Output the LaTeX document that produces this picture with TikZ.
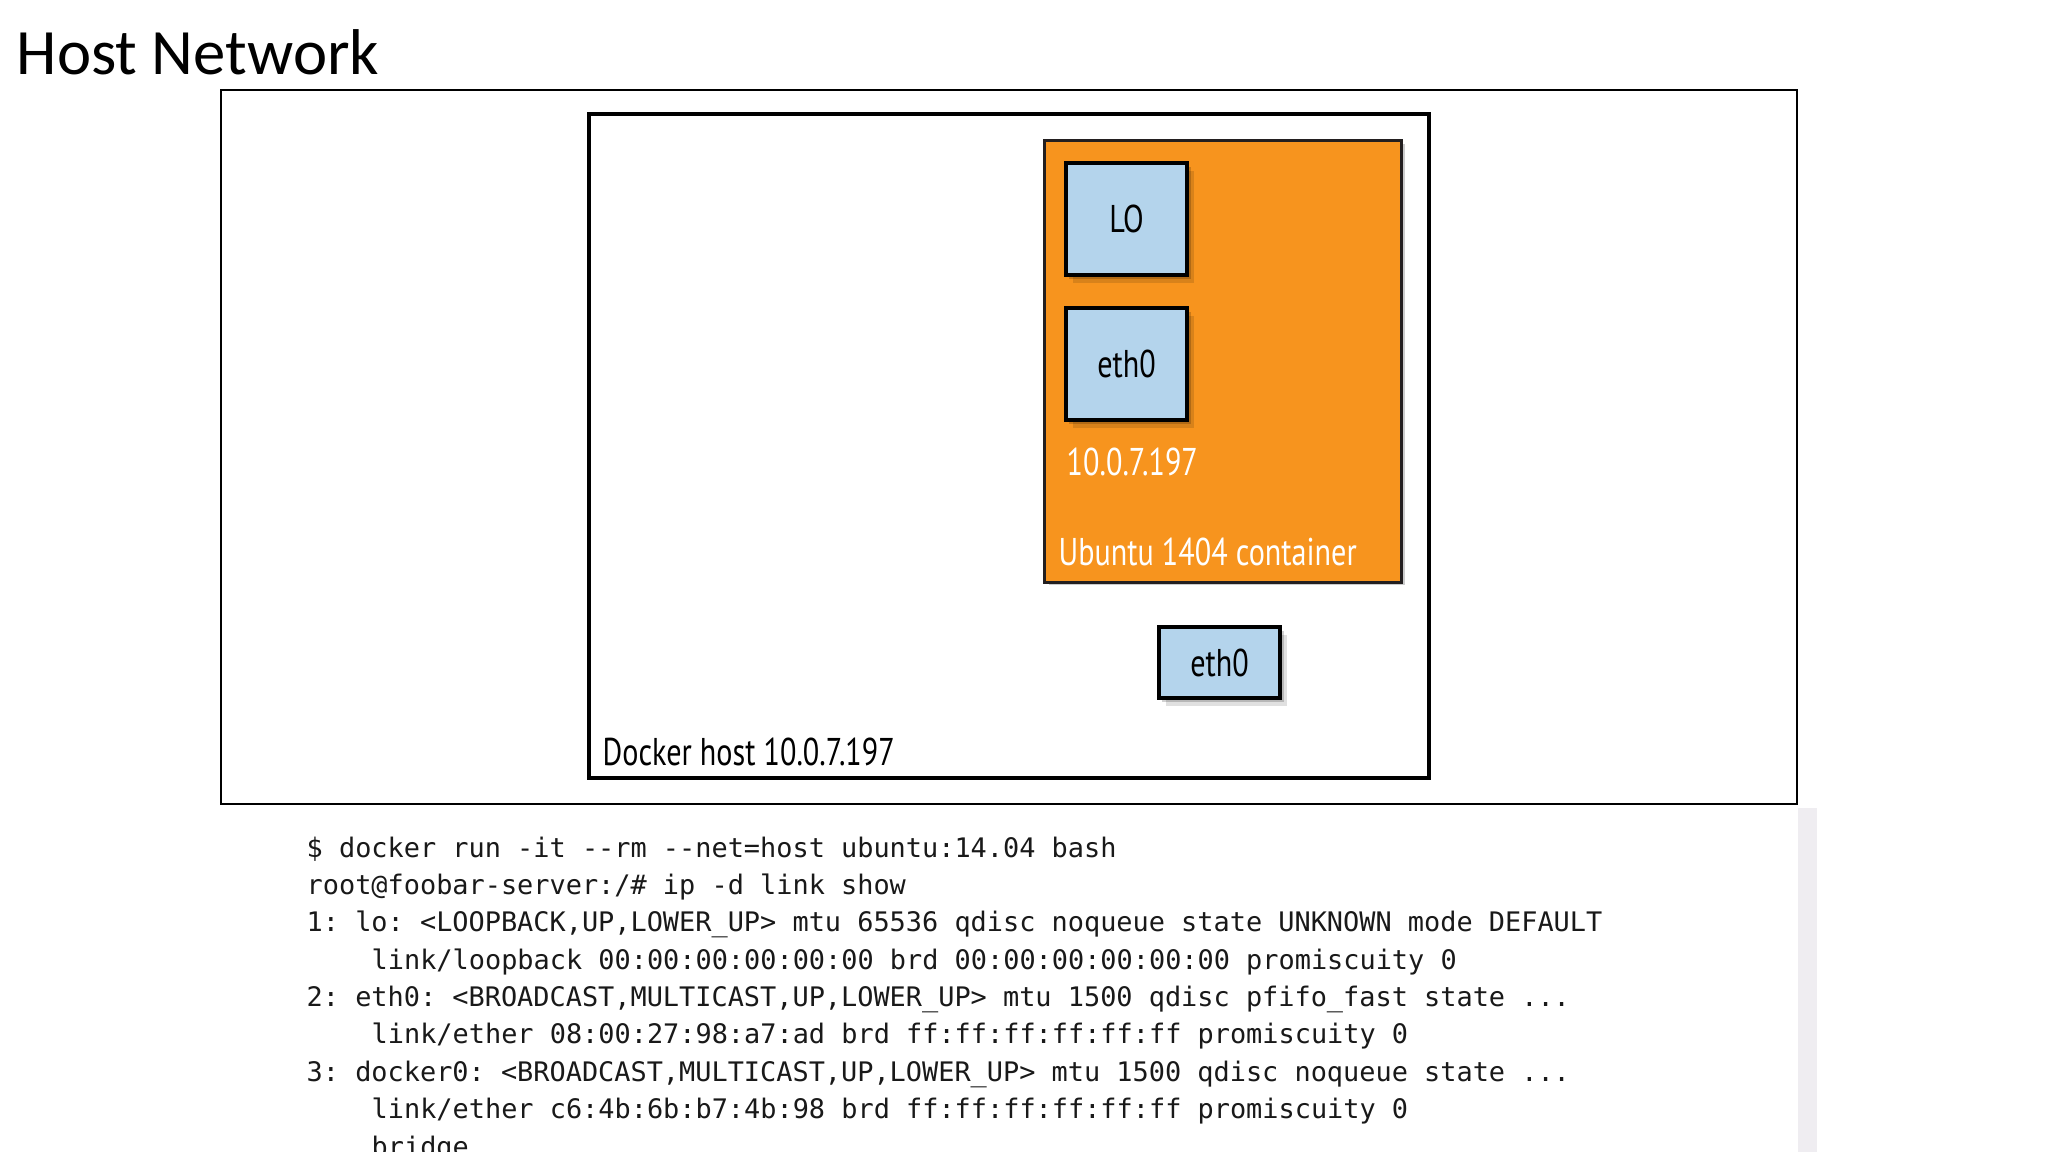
\documentclass[tikz,border=0pt]{standalone}
\usepackage{fontspec}
\setmainfont{Carlito}
\setmonofont{DejaVu Sans Mono}
\newfontfamily\diafont{PT Sans}[FakeStretch=0.78]
\usetikzlibrary{shadows}
\definecolor{ifblue}{RGB}{180,212,236}
\definecolor{ctorange}{RGB}{247,148,30}
\definecolor{stripgray}{RGB}{239,237,241}
\definecolor{codeink}{RGB}{25,25,25}
\tikzset{
  ifbox/.style={draw=black, line width=1.1pt, fill=ifblue, minimum width=1.21cm,
    inner sep=0pt, font=\diafont\fontsize{11}{13}\selectfont,
    general shadow={fill=black, opacity=0.12, shadow xshift=0.07cm, shadow yshift=-0.08cm},
    general shadow={fill=black, opacity=0.18, shadow xshift=0.035cm, shadow yshift=-0.04cm}},
  dialabel/.style={anchor=base west, inner sep=0pt, font=\diafont\fontsize{11}{13}\selectfont},
  codeline/.style={anchor=base west, inner sep=0pt, text=codeink,
    font=\ttfamily\fontsize{7.65}{9}\selectfont},
}
\begin{document}
\begin{tikzpicture}[x=0.01cm, y=-0.01cm]
\clip (0,0) rectangle (2048,1152);
\fill[white] (0,0) rectangle (2048,1152);
% light strip at right of code area
\fill[stripgray] (1798,808) rectangle (1817,1152);
% title
\node[anchor=base west, inner sep=0pt, font=\fontsize{18.4}{22}\selectfont] (title) at (16,75) {Host Network};
% outer frame
\draw[line width=0.75pt] (221,90) rectangle (1797,804);
% docker host
\draw[line width=1.2pt] (589,114) rectangle (1429,778);
\node[dialabel] (hostlbl) at (602,765) {Docker host 10.0.7.197};
% container
\node[draw={rgb,255:red,35;green,31;blue,32}, line width=0.9pt, fill=ctorange, minimum width=3.56cm, minimum height=4.41cm, inner sep=0pt,
  general shadow={fill=black, opacity=0.2, shadow xshift=0.04cm, shadow yshift=-0.03cm}] (ctr) at (1223,361.5) {};
\node[ifbox, minimum height=1.12cm] (lo) at (1126.5,219) {LO};
\node[ifbox, minimum height=1.12cm] (ceth) at (1126.5,364) {eth0};
\node[dialabel, text=white] (ctrip) at (1066,476) {10.0.7.197};
\node[dialabel, text=white] (ctrlbl) at (1058,565) {Ubuntu 1404 container};
% host eth0
\node[ifbox, minimum height=0.71cm] (heth) at (1219.5,662.5) {eth0};
% code
\node[codeline] (c1) at (306,857) {\$ docker run -it -{}-rm -{}-net=host ubuntu:14.04 bash};
\node[codeline] (c2) at (306,894) {root@foobar-server:/\# ip -d link show};
\node[codeline] (c3) at (306,931.5) {1: lo: <LOOPBACK,UP,LOWER\_UP> mtu 65536 qdisc noqueue state UNKNOWN mode DEFAULT};
\node[codeline] (c4) at (371,969) {link/loopback 00:00:00:00:00:00 brd 00:00:00:00:00:00 promiscuity 0};
\node[codeline] (c5) at (306,1006) {2: eth0: <BROADCAST,MULTICAST,UP,LOWER\_UP> mtu 1500 qdisc pfifo\_fast state ...};
\node[codeline] (c6) at (371,1043.5) {link/ether 08:00:27:98:a7:ad brd ff:ff:ff:ff:ff:ff promiscuity 0};
\node[codeline] (c7) at (306,1081) {3: docker0: <BROADCAST,MULTICAST,UP,LOWER\_UP> mtu 1500 qdisc noqueue state ...};
\node[codeline] (c8) at (371,1118) {link/ether c6:4b:6b:b7:4b:98 brd ff:ff:ff:ff:ff:ff promiscuity 0};
\node[codeline] (c9) at (371,1156) {bridge};
\end{tikzpicture}
\end{document}
